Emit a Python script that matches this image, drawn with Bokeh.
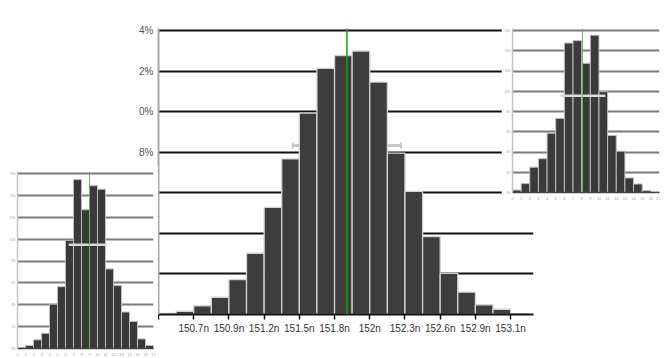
import numpy as np
from bokeh.plotting import figure
from bokeh.models import (Range1d, FixedTicker, Span, Whisker, ColumnDataSource,
                          TeeHead, GridBox, PrintfTickFormatter)
from bokeh.embed import file_html
from bokeh.resources import INLINE

# ---------------- data ----------------
# main histogram: share of samples per bin (%), bins in ns
main_bin_start = 150.4333
main_bin_width = 0.13333
main_pct = [0.06, 0.16, 0.43, 0.85, 1.72, 3.02, 5.28, 7.67, 9.93, 12.13, 12.77,
            12.99, 11.46, 7.96, 6.07, 3.84, 2.03, 1.10, 0.48, 0.26, 0.04]
main_xtick_labels = ["", "150.7n", "150.9n", "151.2n", "151.5n", "151.8n",
                     "152n", "152.3n", "152.6n", "152.9n", "153.1n"]
main_ytick_values = [0, 2, 4, 6, 8, 10, 12, 14]
main_ytick_labels = ["", "", "", "", "8%", "0%", "2%", "4%"]
main_mean = 151.86
main_sd = 0.41
main_err_level = 8.33

# left thumbnail histogram (%), bins numbered 0..17
left_pct = [0.09, 0.27, 0.79, 1.39, 4.06, 5.66, 9.90, 15.46, 12.70, 14.90, 14.58,
            7.28, 5.76, 3.34, 2.48, 0.88, 0.28]
left_mean = 9.0
left_err = (6.41, 11.21)
left_err_level = 9.5

# right thumbnail histogram (%), bins numbered 0..17
right_pct = [0.24, 0.88, 2.50, 3.34, 5.86, 7.32, 14.76, 15.00, 12.76, 15.54, 9.96,
             5.64, 4.08, 1.44, 0.84, 0.18, 0.05]
right_mean = 8.09
right_err = (5.48, 10.74)
right_err_level = 9.56

thumb_ytick_values = [0, 2, 4, 6, 8, 10, 12, 14, 16]

FONT = "Liberation Sans"

# ---------------- main chart ----------------
edges = main_bin_start + np.arange(len(main_pct) + 1) * main_bin_width
xticks = [float(v) for v in edges[0::2]]

main = figure(width=460, height=342,
              x_range=Range1d(main_bin_start, main_bin_start + 21.3 * main_bin_width),
              y_range=Range1d(0, 14.1),
              output_backend="svg", toolbar_location=None,
              min_border_left=58, min_border_right=27, min_border_top=20,
              min_border_bottom=36)
main.outline_line_color = None
main.background_fill_color = "white"
main.border_fill_color = "white"

main.quad(left=edges[:-1], right=edges[1:], bottom=0, top=main_pct,
          fill_color="#3d3d3d", line_color="#d2d2d2", line_width=1.3)

main.xaxis.ticker = FixedTicker(ticks=xticks)
main.xaxis.major_label_overrides = {v: s for v, s in zip(xticks, main_xtick_labels)}
main.yaxis.ticker = FixedTicker(ticks=main_ytick_values)
main.yaxis.major_label_overrides = {v: s for v, s in zip(main_ytick_values, main_ytick_labels)}
main.ygrid.ticker = FixedTicker(ticks=main_ytick_values)
main.xgrid.grid_line_color = None
main.ygrid.grid_line_color = "#111111"
main.ygrid.grid_line_width = 2

main.xaxis.axis_line_color = "#111111"
main.xaxis.axis_line_width = 2
main.xaxis.major_tick_line_color = "#111111"
main.xaxis.major_tick_line_width = 1.5
main.xaxis.major_tick_out = 5
main.xaxis.major_tick_in = 0
main.xaxis.minor_tick_line_color = None
main.xaxis.major_label_text_font = FONT
main.xaxis.major_label_text_font_size = "10px"
main.xaxis.major_label_text_color = "#333333"
main.xaxis.major_label_standoff = 3

main.yaxis.axis_line_color = "#a8a8a8"
main.yaxis.axis_line_width = 2
main.yaxis.major_tick_line_color = None
main.yaxis.major_tick_out = 0
main.yaxis.major_tick_in = 0
main.yaxis.minor_tick_line_color = None
main.yaxis.major_label_text_font = FONT
main.yaxis.major_label_text_font_size = "10px"
main.yaxis.major_label_text_color = "#555555"
main.yaxis.major_label_standoff = 5

main.add_layout(Span(location=main_mean, dimension="height",
                     line_color="#10a810", line_width=1.5))
err_src = ColumnDataSource(dict(base=[main_err_level], lower=[main_mean - main_sd],
                                upper=[main_mean + main_sd]))
main.add_layout(Whisker(source=err_src, base="base", lower="lower", upper="upper",
                        dimension="width", line_color="#c8c8c8", line_width=3,
                        upper_head=TeeHead(size=6, line_color="#c8c8c8", line_width=2),
                        lower_head=TeeHead(size=6, line_color="#c8c8c8", line_width=2)))


# ---------------- thumbnails ----------------
def thumbnail(pct, mean, err, err_level, width, height, borders):
    n = len(pct)
    th = figure(width=width, height=height, x_range=Range1d(0, n), y_range=Range1d(0, 16.2),
                output_backend="svg", toolbar_location=None,
                min_border_left=borders[0], min_border_right=borders[1],
                min_border_top=borders[2], min_border_bottom=borders[3])
    th.outline_line_color = None
    th.background_fill_color = "white"
    th.border_fill_color = "white"
    idx = np.arange(n)
    th.quad(left=idx, right=idx + 1, bottom=0, top=pct,
            fill_color="#3a3a3a", line_color="#bdbdbd", line_width=1)
    th.xaxis.ticker = FixedTicker(ticks=list(range(n + 1)))
    th.yaxis.ticker = FixedTicker(ticks=thumb_ytick_values)
    th.ygrid.ticker = FixedTicker(ticks=thumb_ytick_values)
    th.yaxis.formatter = PrintfTickFormatter(format="%d%%")
    th.xgrid.grid_line_color = None
    th.ygrid.grid_line_color = "#7a7a7a"
    th.ygrid.grid_line_width = 2
    th.xaxis.axis_line_color = "#444444"
    th.xaxis.axis_line_width = 1.5
    th.yaxis.axis_line_color = "#c4c4c4"
    th.yaxis.axis_line_width = 1.5
    for ax in (th.xaxis, th.yaxis):
        ax.major_tick_line_color = None
        ax.major_tick_out = 0
        ax.major_tick_in = 0
        ax.minor_tick_line_color = None
        ax.major_label_text_font = FONT
        ax.major_label_text_color = "#a0a0a0"
        ax.major_label_standoff = 2
    th.xaxis.major_label_text_font_size = "4px"
    th.xaxis.major_label_standoff = 4
    th.yaxis.major_label_text_font_size = "3px"
    th.add_layout(Span(location=mean, dimension="height",
                       line_color="#5cba5c", line_width=1))
    th.segment(x0=[err[0]], y0=[err_level], x1=[err[1]], y1=[err_level],
               line_color="#dadada", line_width=2.5)
    return th


right = thumbnail(right_pct, right_mean, right_err, right_err_level,
                  159, 197, (6, 1, 5, 13))
left = thumbnail(left_pct, left_mean, left_err, left_err_level,
                 158, 193, (17, 5, 6, 9))

# page placement (Bokeh page has no body margin):
# column edges 0,100,158,501,560,660 ; row edges 0,8,165,205,350,358
layout = GridBox(children=[(main, 1, 1, 3, 3), (right, 1, 3, 2, 2), (left, 2, 0, 3, 2)],
                 cols=["100px", "58px", "343px", "59px", "100px"],
                 rows=["8px", "157px", "40px", "145px", "8px"])

open("out.html", "w").write(file_html(layout, INLINE))
